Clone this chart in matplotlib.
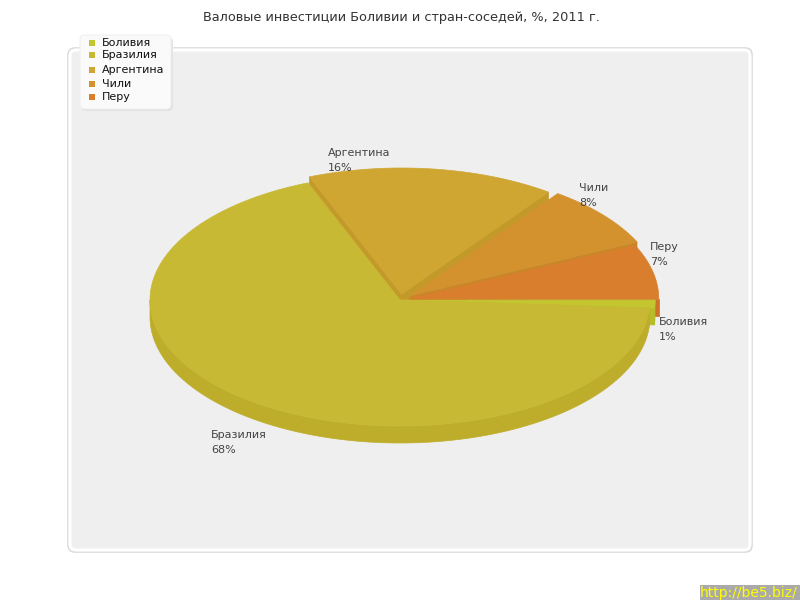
import numpy as np
import matplotlib
matplotlib.use("Agg")
import matplotlib.pyplot as plt
from matplotlib.patches import Polygon, FancyBboxPatch, Rectangle

# ---- data -------------------------------------------------------------
countries = ["Боливия", "Бразилия", "Аргентина", "Чили", "Перу"]
shares = [1, 68, 16, 8, 7]          # % of gross investment, 2011
title = "Валовые инвестиции Боливии и стран-соседей, %, 2011 г."

# ---- style / layout ---------------------------------------------------
top_colors = ["#c2c730", "#c8b935", "#cfa632", "#d4922e", "#d97e2d"]
side_colors = ["#b7bc2a", "#bead2b", "#c39a29", "#c88728", "#cd7227"]
explode_px = [5, 0, 12, 14, 9]
label_xy = [(659, 322), (211, 435), (328, 153), (579, 188), (650, 247)]
legend_y = [43, 55, 70, 84, 97]

cx, cy = 400.0, 300.0        # pie centre (pixels)
rx, ry = 250.0, 126.0        # ellipse radii of the top face
depth = 17.0                 # thickness of the pie
start = 0.0                  # slices run clockwise from 3 o'clock

plt.rcParams["font.family"] = ["DejaVu Sans"]
fig = plt.figure(figsize=(8, 6), dpi=100)
ax = fig.add_axes([0, 0, 1, 1])
ax.set_xlim(0, 800)
ax.set_ylim(600, 0)
ax.axis("off")
fig.patch.set_facecolor("white")

# plot area
ax.add_patch(FancyBboxPatch((68, 48), 684, 504, boxstyle="round,pad=0,rounding_size=7",
                            facecolor="none", edgecolor="#dadada", linewidth=1.2, zorder=0))
ax.add_patch(FancyBboxPatch((70, 50), 680, 500, boxstyle="round,pad=0,rounding_size=6",
                            facecolor="#efefef", edgecolor="white", linewidth=2.2, zorder=0.1))

# title
ax.text(401, 18, title, ha="center", va="center", fontsize=9.3, color="#333333")


def rim(theta_deg, dx, dy, z=0.0):
    t = np.radians(theta_deg)
    return np.column_stack([cx + dx + rx * np.cos(t), cy + dy - ry * np.sin(t) + z])


def visible_wall_ranges(lo, hi):
    """Parts of [lo, hi] on the front half (sin < 0)."""
    out = []
    for k in range(-3, 3):
        a, b = -180 + 360 * k, 0 + 360 * k
        s, e = max(lo, a), min(hi, b)
        if e > s:
            out.append((s, e))
    return out


# slice angles
slices = []
cum = 0.0
for i, v in enumerate(shares):
    hi = start - cum * 3.6
    lo = hi - v * 3.6
    cum += v
    mid = np.radians((lo + hi) / 2)
    dx = explode_px[i] * np.cos(mid)
    dy = -explode_px[i] * np.sin(mid) * ry / rx
    slices.append(dict(i=i, lo=lo, hi=hi, mid=mid, dx=dx, dy=dy))

# paint from back to front
order = sorted(slices, key=lambda s: -np.sin(s["mid"]))
z = 1.0
for s in order:
    i, lo, hi, dx, dy = s["i"], s["lo"], s["hi"], s["dx"], s["dy"]
    c0 = (cx + dx, cy + dy)
    # radial cut faces
    for ang, vis in ((hi, np.cos(np.radians(hi)) < 0), (lo, np.cos(np.radians(lo)) > 0)):
        if vis:
            p_top = rim([ang], dx, dy)[0]
            quad = [c0, tuple(p_top), (p_top[0], p_top[1] + depth), (c0[0], c0[1] + depth)]
            ax.add_patch(Polygon(quad, closed=True, facecolor=side_colors[i],
                                 edgecolor=side_colors[i], linewidth=0.5, zorder=z))
            z += 0.01
    # outer wall
    for a, b in visible_wall_ranges(lo, hi):
        th = np.linspace(a, b, 120)
        upper = rim(th, dx, dy)
        lower = rim(th[::-1], dx, dy, depth)
        ax.add_patch(Polygon(np.vstack([upper, lower]), closed=True,
                             facecolor=side_colors[i], edgecolor=side_colors[i],
                             linewidth=0.5, zorder=z))
        z += 0.01
    # top face
    th = np.linspace(lo, hi, max(3, int((hi - lo) * 2)))
    top = np.vstack([[c0], rim(th, dx, dy)])
    ax.add_patch(Polygon(top, closed=True, facecolor=top_colors[i],
                         edgecolor=top_colors[i], linewidth=0.5, zorder=z))
    z += 0.01

# slice labels: name above, percentage below
for i, (name, v) in enumerate(zip(countries, shares)):
    x, y = label_xy[i]
    ax.text(x, y, name, ha="left", va="center", fontsize=8, color="#444444", zorder=20)
    ax.text(x, y + 15, f"{v}%", ha="left", va="center", fontsize=8, color="#444444", zorder=20)

# legend
ax.add_patch(FancyBboxPatch((81, 37), 92, 74, boxstyle="round,pad=0,rounding_size=5",
                            facecolor="#e2e2e2", edgecolor="none", zorder=20))
ax.add_patch(FancyBboxPatch((80, 35), 91, 74, boxstyle="round,pad=0,rounding_size=5",
                            facecolor="#fafafa", edgecolor="#f0f0f0", linewidth=0.8, zorder=21))
for i, name in enumerate(countries):
    y = legend_y[i]
    ax.add_patch(Rectangle((89, y - 3), 6, 6, facecolor=top_colors[i], edgecolor="none", zorder=22))
    ax.text(102, y, name, ha="left", va="center", fontsize=8, color="#111111", zorder=22)

# site badge
ax.add_patch(Rectangle((700, 585), 100, 15, facecolor="#aaaaaa", edgecolor="none", zorder=30))
ax.text(700, 593.5, "http://be5.biz/", ha="left", va="center", fontsize=10,
        color="#ffff00", zorder=31)

fig.savefig("out.png", dpi=100)
